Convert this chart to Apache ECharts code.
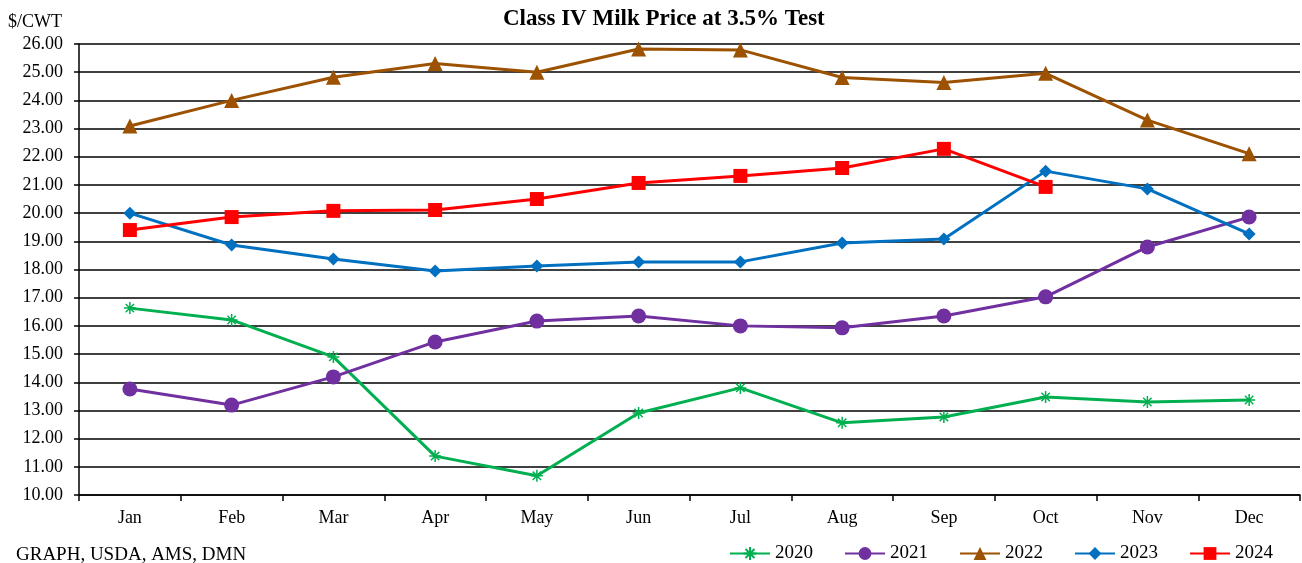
<!DOCTYPE html>
<html>
<head>
<meta charset="utf-8">
<script src="https://cdn.jsdelivr.net/npm/echarts@6/dist/echarts.min.js"></script>
<style>
  html, body { margin: 0; padding: 0; background: #fff; }
  #main { width: 1302px; height: 563px; }
</style>
</head>
<body>
<div id="main"></div>
<script>
const months = ['Jan', 'Feb', 'Mar', 'Apr', 'May', 'Jun', 'Jul', 'Aug', 'Sep', 'Oct', 'Nov', 'Dec']
const y2020 = [16.63, 16.21, 14.90, 11.38, 10.68, 12.91, 13.80, 12.56, 12.77, 13.48, 13.30, 13.37]
const y2021 = [13.76, 13.19, 14.19, 15.43, 16.17, 16.35, 16.00, 15.93, 16.35, 17.03, 18.80, 19.86]
const y2022 = [23.09, 24.00, 24.82, 25.31, 25.00, 25.82, 25.79, 24.81, 24.63, 24.96, 23.30, 22.11]
const y2023 = [20.00, 18.87, 18.37, 17.95, 18.12, 18.27, 18.27, 18.94, 19.08, 21.49, 20.86, 19.26]
const y2024 = [19.40, 19.86, 20.08, 20.11, 20.50, 21.07, 21.32, 21.60, 22.28, 20.93]

const serif = '"Liberation Serif", "DejaVu Serif", serif'
const asterisk = 'path://M0 5 L10 5 M5 0 L5 10 M1.5 1.5 L8.5 8.5 M8.5 1.5 L1.5 8.5'

let chart = echarts.init(document.getElementById('main'))

function line (name, data, color, symbol, size, extra) {
  return Object.assign({
    name: name,
    type: 'line',
    data: data,
    symbol: symbol,
    symbolSize: size,
    showAllSymbol: true,
    lineStyle: { color: color, width: 3 },
    itemStyle: { color: color },
    emphasis: { disabled: true }
  }, extra || {})
}

chart.setOption({
  animation: false,
  textStyle: { fontFamily: serif, color: '#000' },
  title: [
    {
      text: 'Class IV Milk Price at 3.5% Test',
      left: 498,
      top: 3,
      textStyle: { fontFamily: serif, fontSize: 23, fontWeight: 'bold', color: '#000' }
    },
    {
      text: '$/CWT',
      left: 3,
      top: 8,
      textStyle: { fontFamily: serif, fontSize: 18, fontWeight: 'normal', color: '#000' }
    },
    {
      text: 'GRAPH, USDA, AMS, DMN',
      left: 16,
      top: 546,
      padding: 0,
      textStyle: { fontFamily: serif, fontSize: 19, fontWeight: 'normal', color: '#000' }
    }
  ],
  legend: {
    right: 24,
    top: 539,
    itemGap: 31,
    itemWidth: 40,
    itemHeight: 16,
    textStyle: { fontFamily: serif, fontSize: 19, color: '#000' },
    data: ['2020', '2021', '2022', '2023', '2024']
  },
  grid: { left: 79, right: 2, top: 44, bottom: 68 },
  xAxis: {
    type: 'category',
    data: months,
    boundaryGap: true,
    axisLine: { lineStyle: { color: '#000', width: 1.5 } },
    axisTick: { show: true, length: 6, lineStyle: { color: '#000', width: 1.5 } },
    axisLabel: { fontFamily: serif, fontSize: 18, color: '#000', margin: 14 }
  },
  yAxis: {
    type: 'value',
    min: 10,
    max: 26,
    interval: 1,
    axisLine: { show: true, lineStyle: { color: '#000', width: 1.5 } },
    axisTick: { show: true, length: 5, lineStyle: { color: '#000', width: 1.5 } },
    axisLabel: {
      fontFamily: serif,
      fontSize: 18,
      color: '#000',
      margin: 16,
      formatter: v => v.toFixed(2)
    },
    splitLine: { show: true, lineStyle: { color: '#000', width: 1.5 } }
  },
  series: [
    line('2020', y2020, '#00B050', asterisk, 12, {
      itemStyle: { color: 'transparent', borderColor: '#00B050', borderWidth: 1.5 }
    }),
    line('2021', y2021, '#7030A0', 'circle', 15),
    line('2022', y2022, '#9C5200', 'triangle', 15),
    line('2023', y2023, '#0070C0', 'diamond', 13),
    line('2024', y2024, '#FF0000', 'rect', 14)
  ]
})
</script>
</body>
</html>
